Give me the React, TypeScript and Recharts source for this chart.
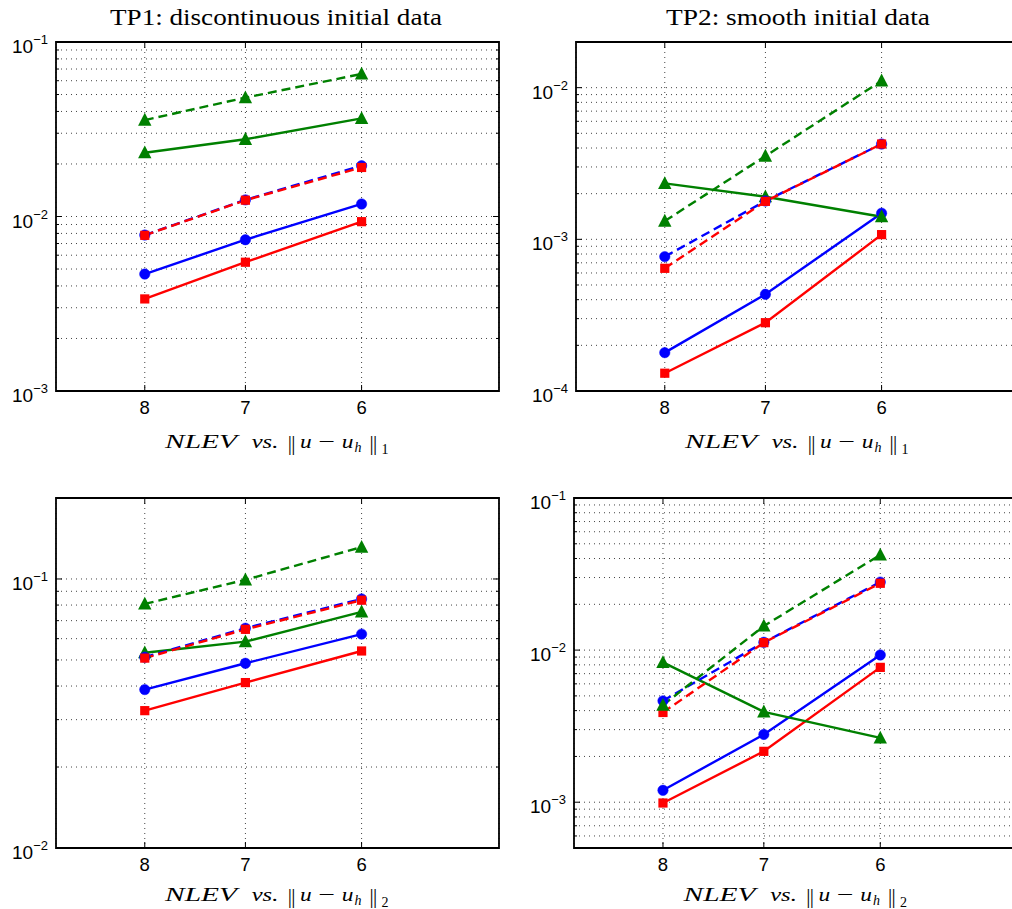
import React from 'react';
import { LineChart, Line, XAxis, YAxis, CartesianGrid, ReferenceArea } from 'recharts';

// ---------- data ----------
const NLEV = [8, 7, 6];
const X_TICKS = [8, 7, 6];
const X_DOMAIN: [number, number] = [5, 9];
const MINOR_STEPS = [1, 2, 3, 4, 5, 6, 7, 8, 9];

// TP1, L1 norm
const P1_BLUE_SOLID = [0.00468, 0.00736, 0.0118];
const P1_RED_SOLID = [0.00337, 0.00547, 0.00934];
const P1_GREEN_SOLID = [0.0232, 0.0277, 0.0365];
const P1_BLUE_DASHED = [0.00783, 0.01245, 0.01955];
const P1_RED_DASHED = [0.0078, 0.0124, 0.0191];
const P1_GREEN_DASHED = [0.0357, 0.048, 0.0656];

// TP2, L1 norm
const P2_BLUE_SOLID = [0.000179, 0.000434, 0.001486];
const P2_RED_SOLID = [0.000131, 0.000282, 0.001074];
const P2_GREEN_SOLID = [0.00234, 0.00191, 0.00141];
const P2_BLUE_DASHED = [0.000769, 0.00179, 0.00425];
const P2_RED_DASHED = [0.000644, 0.00178, 0.00425];
const P2_GREEN_DASHED = [0.00132, 0.00354, 0.0111];

// TP1, L2 norm
const P3_BLUE_SOLID = [0.0388, 0.0486, 0.0624];
const P3_RED_SOLID = [0.0324, 0.0412, 0.054];
const P3_GREEN_SOLID = [0.0532, 0.0585, 0.0755];
const P3_BLUE_DASHED = [0.0512, 0.0656, 0.0843];
const P3_RED_DASHED = [0.0508, 0.065, 0.0834];
const P3_GREEN_DASHED = [0.0808, 0.0993, 0.1314];

// TP2, L2 norm
const P4_BLUE_SOLID = [0.001198, 0.00279, 0.00929];
const P4_RED_SOLID = [0.000988, 0.00216, 0.0077];
const P4_GREEN_SOLID = [0.00831, 0.00393, 0.00265];
const P4_BLUE_DASHED = [0.00464, 0.01126, 0.028];
const P4_RED_DASHED = [0.00389, 0.0112, 0.0275];
const P4_GREEN_DASHED = [0.00435, 0.0144, 0.0423];

const P1_DECADES = [0.001, 0.01, 0.1];
const P2_DECADES = [0.0001, 0.001, 0.01];
const P3_DECADES = [0.01, 0.1];
const P4_DECADES = [0.001, 0.01, 0.1];

const P1_Y_DOMAIN: [number, number] = [0.001, 0.1];
const P2_Y_DOMAIN: [number, number] = [0.0001, 0.02];
const P3_Y_DOMAIN: [number, number] = [0.01, 0.2];
const P4_Y_DOMAIN: [number, number] = [0.0005, 0.1];

const TITLE_1 = 'TP1: discontinuous initial data';
const TITLE_2 = 'TP2: smooth initial data';

// ---------- styling ----------
const BLUE = '#0000ff';
const RED = '#ff0000';
const GREEN = '#008000';
const SANS = "'Liberation Sans', Arial, Helvetica, sans-serif";
const SERIF = "'Liberation Serif', 'Times New Roman', serif";

type Marker = 'circle' | 'square' | 'triangle';
type SeriesDef = { key: string; color: string; dashed: boolean; marker: Marker };

const SERIES: SeriesDef[] = [
  { key: 'blueSolid', color: BLUE, dashed: false, marker: 'circle' },
  { key: 'redSolid', color: RED, dashed: false, marker: 'square' },
  { key: 'greenSolid', color: GREEN, dashed: false, marker: 'triangle' },
  { key: 'blueDashed', color: BLUE, dashed: true, marker: 'circle' },
  { key: 'redDashed', color: RED, dashed: true, marker: 'square' },
  { key: 'greenDashed', color: GREEN, dashed: true, marker: 'triangle' },
];

function buildRows(v: Record<string, number[]>) {
  return NLEV.map((n, i) => {
    const row: Record<string, number> = { nlev: n };
    SERIES.forEach((s) => {
      row[s.key] = v[s.key][i];
    });
    return row;
  });
}

function gridTicks(domain: [number, number]) {
  const [lo, hi] = domain;
  const e0 = Math.floor(Math.log10(lo) + 1e-9);
  const e1 = Math.floor(Math.log10(hi) + 1e-9);
  const out: number[] = [];
  for (let e = e0; e <= e1; e++) {
    MINOR_STEPS.forEach((m) => {
      const v = Number((m * Math.pow(10, e)).toPrecision(6));
      if (v >= lo * (1 - 1e-9) && v <= hi * (1 + 1e-9)) out.push(v);
    });
  }
  return out;
}

const makeDot = (marker: Marker, color: string) => (props: any) => {
  const { cx, cy, index } = props;
  if (cx == null || cy == null) return <g key={`d${index}`} />;
  if (marker === 'circle')
    return <circle key={`d${index}`} cx={cx} cy={cy} r={5.2} fill={color} stroke={color} strokeWidth={0.5} />;
  if (marker === 'square')
    return <rect key={`d${index}`} x={cx - 4.6} y={cy - 4.6} width={9.2} height={9.2} fill={color} />;
  return (
    <polygon
      key={`d${index}`}
      points={`${cx},${cy - 7.2} ${cx - 6.7},${cy + 5.6} ${cx + 6.7},${cy + 5.6}`}
      fill={color}
    />
  );
};

const makeYTick = (decades: number[], plotWidth: number) => (props: any) => {
  const { x, y, payload } = props;
  const v = payload.value as number;
  const isMajor = decades.some((d) => Math.abs(v / d - 1) < 1e-6);
  const len = isMajor ? 6 : 3;
  const exp = Math.round(Math.log10(v));
  return (
    <g>
      <line x1={x} x2={x + len} y1={y} y2={y} stroke="#000" strokeWidth={1} />
      <line x1={x + plotWidth} x2={x + plotWidth - len} y1={y} y2={y} stroke="#000" strokeWidth={1} />
      {isMajor && (
        <text x={x - 8} y={y + 11} textAnchor="end" fontFamily={SANS} fontSize={19} fill="#000">
          10
          <tspan dy={-9} fontSize={13}>
            {'\u2212' + Math.abs(exp)}
          </tspan>
        </text>
      )}
    </g>
  );
};

const makeXTick = (plotHeight: number) => (props: any) => {
  const { x, y, payload } = props;
  return (
    <g>
      <line x1={x} x2={x} y1={y} y2={y - 6} stroke="#000" strokeWidth={1} />
      <line x1={x} x2={x} y1={y - plotHeight} y2={y - plotHeight + 6} stroke="#000" strokeWidth={1} />
      <text x={x} y={y + 23} textAnchor="middle" fontFamily={SANS} fontSize={18.5} fill="#000">
        {payload.value}
      </text>
    </g>
  );
};

const makeXLabel = (sub: string, dy: number) => (p: any) => {
  const vb = p.viewBox || {};
  const cx = vb.x + vb.width / 2;
  const y = vb.y + dy;
  const seg = (
    key: string,
    dx: number,
    text: string,
    opts: { italic?: boolean; size?: number; base?: number; len?: number } = {}
  ) => (
    <text
      key={key}
      x={cx + dx}
      y={y + (opts.base || 0)}
      fontFamily={SERIF}
      fontStyle={opts.italic ? 'italic' : 'normal'}
      fontSize={opts.size || 19}
      fill="#000"
      {...(opts.len ? { textLength: opts.len, lengthAdjust: 'spacingAndGlyphs' } : {})}
    >
      {text}
    </text>
  );
  return (
    <g>
      {seg('a', -112.5, 'NLEV', { italic: true, len: 72 })}
      {seg('b', -25.8, 'vs.', { italic: true, len: 26.6 })}
      {seg('c1', 10.3, '|', { size: 21, base: 1.5 })}
      {seg('c2', 13.8, '|', { size: 21, base: 1.5 })}
      {seg('d', 22.5, 'u', { italic: true, len: 11.7 })}
      {seg('e', 40.8, '\u2212', { len: 16.7 })}
      {seg('f', 64.2, 'u', { italic: true, len: 11.7 })}
      {seg('g', 77, 'h', { italic: true, size: 14, base: 3.5 })}
      {seg('h1', 92, '|', { size: 21, base: 1.5 })}
      {seg('h2', 95.5, '|', { size: 21, base: 1.5 })}
      {seg('i', 104, sub, { size: 14, base: 6 })}
    </g>
  );
};

type PanelProps = {
  left: number;
  top: number;
  width: number;
  height: number;
  xAxisHeight: number;
  rows: Record<string, number>[];
  yDomain: [number, number];
  decades: number[];
  normSub: string;
  labelDy: number;
};

function Panel(pp: PanelProps) {
  const marginTop = 42;
  const yAxisWidth = 56;
  const marginRight = 1;
  const plotWidth = pp.width - yAxisWidth - marginRight;
  const plotHeight = pp.height - marginTop - pp.xAxisHeight;
  const ticks = gridTicks(pp.yDomain);
  return (
    <div style={{ position: 'absolute', left: pp.left, top: pp.top }}>
      <LineChart
        width={pp.width}
        height={pp.height}
        data={pp.rows}
        margin={{ top: marginTop, right: marginRight, bottom: 0, left: 0 }}
      >
        <CartesianGrid stroke="#444" strokeWidth={1} strokeDasharray="1 4" />
        <XAxis
          type="number"
          dataKey="nlev"
          scale="log"
          domain={X_DOMAIN}
          allowDataOverflow
          reversed
          ticks={X_TICKS}
          interval={0}
          tick={makeXTick(plotHeight)}
          tickLine={false}
          axisLine={false}
          tickSize={0}
          tickMargin={0}
          height={pp.xAxisHeight}
          label={{ content: makeXLabel(pp.normSub, pp.labelDy) }}
        />
        <YAxis
          type="number"
          scale="log"
          domain={pp.yDomain}
          allowDataOverflow
          ticks={ticks}
          interval={0}
          tick={makeYTick(pp.decades, plotWidth)}
          tickLine={false}
          axisLine={false}
          tickSize={0}
          tickMargin={0}
          width={yAxisWidth}
        />
        {SERIES.map((s) => (
          <Line
            key={s.key}
            type="linear"
            dataKey={s.key}
            stroke={s.color}
            strokeWidth={2.4}
            strokeDasharray={s.dashed ? '9 5' : undefined}
            dot={makeDot(s.marker, s.color)}
            activeDot={false}
            isAnimationActive={false}
          />
        ))}
        <ReferenceArea
          x1={X_DOMAIN[0]}
          x2={X_DOMAIN[1]}
          y1={pp.yDomain[0]}
          y2={pp.yDomain[1]}
          fill="none"
          fillOpacity={0}
          stroke="#000"
          strokeWidth={1.8}
          ifOverflow="visible"
        />
      </LineChart>
    </div>
  );
}

const ROWS_1 = buildRows({
  blueSolid: P1_BLUE_SOLID, redSolid: P1_RED_SOLID, greenSolid: P1_GREEN_SOLID,
  blueDashed: P1_BLUE_DASHED, redDashed: P1_RED_DASHED, greenDashed: P1_GREEN_DASHED,
});
const ROWS_2 = buildRows({
  blueSolid: P2_BLUE_SOLID, redSolid: P2_RED_SOLID, greenSolid: P2_GREEN_SOLID,
  blueDashed: P2_BLUE_DASHED, redDashed: P2_RED_DASHED, greenDashed: P2_GREEN_DASHED,
});
const ROWS_3 = buildRows({
  blueSolid: P3_BLUE_SOLID, redSolid: P3_RED_SOLID, greenSolid: P3_GREEN_SOLID,
  blueDashed: P3_BLUE_DASHED, redDashed: P3_RED_DASHED, greenDashed: P3_GREEN_DASHED,
});
const ROWS_4 = buildRows({
  blueSolid: P4_BLUE_SOLID, redSolid: P4_RED_SOLID, greenSolid: P4_GREEN_SOLID,
  blueDashed: P4_BLUE_DASHED, redDashed: P4_RED_DASHED, greenDashed: P4_GREEN_DASHED,
});

export default function App() {
  return (
    <div
      style={{
        position: 'absolute',
        left: 0,
        top: 0,
        width: 1012,
        height: 909,
        overflow: 'hidden',
        background: '#fff',
      }}
    >
      <Panel left={0} top={0} width={500} height={460} xAxisHeight={69} rows={ROWS_1}
        yDomain={P1_Y_DOMAIN} decades={P1_DECADES} normSub="1" labelDy={57} />
      <Panel left={520} top={0} width={500} height={460} xAxisHeight={69} rows={ROWS_2}
        yDomain={P2_Y_DOMAIN} decades={P2_DECADES} normSub="1" labelDy={57} />
      <Panel left={0} top={456} width={500} height={453} xAxisHeight={61} rows={ROWS_3}
        yDomain={P3_Y_DOMAIN} decades={P3_DECADES} normSub="2" labelDy={53} />
      <Panel left={518} top={456} width={501} height={453} xAxisHeight={61} rows={ROWS_4}
        yDomain={P4_Y_DOMAIN} decades={P4_DECADES} normSub="2" labelDy={53} />
      <svg
        width={1012}
        height={909}
        style={{ position: 'absolute', left: 0, top: 0, pointerEvents: 'none' }}
      >
        <text x={110} y={25} fontFamily={SERIF} fontSize={23} fill="#000"
          textLength={332} lengthAdjust="spacingAndGlyphs">
          {TITLE_1}
        </text>
        <text x={666} y={25} fontFamily={SERIF} fontSize={23} fill="#000"
          textLength={264} lengthAdjust="spacingAndGlyphs">
          {TITLE_2}
        </text>
      </svg>
    </div>
  );
}
